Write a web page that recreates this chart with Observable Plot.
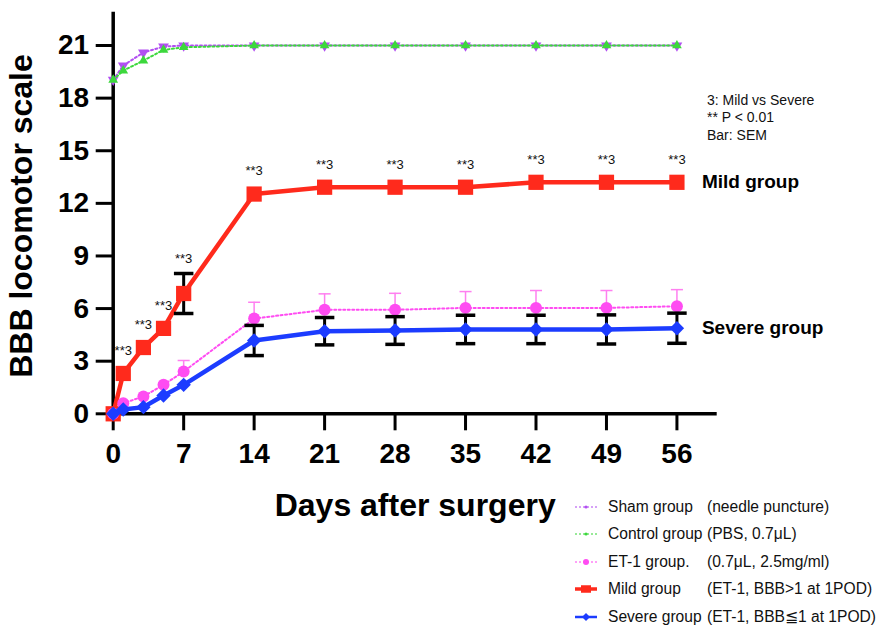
<!DOCTYPE html>
<html><head><meta charset="utf-8">
<script src="https://cdn.jsdelivr.net/npm/d3@7"></script>
<script src="https://cdn.jsdelivr.net/npm/@observablehq/plot@0.6"></script>
<style>
body{margin:0;background:#fff;font-family:"Liberation Sans",Arial,Helvetica,sans-serif;}
#wrap{position:relative;width:877px;height:627px;overflow:hidden;}
#note{position:absolute;left:707px;top:91.5px;font-size:14px;line-height:17.5px;color:#111;}
#legend{position:absolute;left:573px;top:493px;font-size:15.6px;color:#111;}
.row{height:27.5px;display:flex;align-items:center;white-space:pre;}
.row svg{margin-right:9px;}
.nm{display:inline-block;width:99px;}
</style></head>
<body><div id="wrap"></div>
<script>
// ---- data ----
const days     = [0, 1, 3, 5, 7, 14, 21, 28, 35, 42, 49, 56];
const sham     = [19.04, 19.86, 20.6, 20.94, 21, 21, 21, 21, 21, 21, 21, 21];
const control  = [19.04, 19.57, 20.14, 20.75, 20.9, 21, 21, 21, 21, 21, 21, 21];
const et1      = [0, 0.6, 0.99, 1.65, 2.41, 5.43, 5.93, 5.93, 6.04, 6.04, 6.04, 6.13];
const et1Sem   = [0, 0, 0, 0, 0.63, 0.93, 0.91, 0.94, 0.93, 0.99, 0.99, 0.95];
const mild     = [0, 2.3, 3.78, 4.87, 6.86, 12.53, 12.92, 12.92, 12.92, 13.2, 13.2, 13.2];
const mildSem  = [0, 0, 0, 0, 1.14, 0, 0, 0, 0, 0, 0, 0];
const severe   = [0, 0.25, 0.38, 1.04, 1.65, 4.18, 4.71, 4.75, 4.81, 4.81, 4.81, 4.88];
const severeSem= [0, 0, 0, 0, 0, 0.86, 0.78, 0.79, 0.81, 0.81, 0.83, 0.86];
const sigDays  = [1, 3, 5, 7, 14, 21, 28, 35, 42, 49, 56];
const sigLabel = "**3";
const xTicks   = [0, 7, 14, 21, 28, 35, 42, 49, 56];
const yTicks   = [0, 3, 6, 9, 12, 15, 18, 21];
const xTitle   = "Days after surgery";
const yTitle   = "BBB locomotor scale";
const groupLabels = ["Mild group", "Severe group"];
const noteLines = ["3: Mild vs Severe", "** P < 0.01", "Bar: SEM"];
const legendNames   = ["Sham group", "Control group", "ET-1 group.", "Mild group", "Severe group"];
const legendDetails = ["(needle puncture)", "(PBS, 0.7\u03BCL)", "(0.7\u03BCL, 2.5mg/ml)", "(ET-1, BBB>1 at 1POD)", "(ET-1, BBB\u22661 at 1POD)"];

// ---- styles ----
const C = {sham:"#b24ff2", control:"#3cd83c", et1:"#ff4cf2", et1bar:"#ff7ff0", mild:"#ff2a1c", severe:"#1c3cff"};

const rows = days.map((d, i) => ({
  day: d, sham: sham[i], control: control[i], et1: et1[i], et1Sem: et1Sem[i],
  mild: mild[i], mildSem: mildSem[i], severe: severe[i], severeSem: severeSem[i]
}));
const capSym = {draw(ctx, size){ const w = Math.sqrt(size); ctx.moveTo(-w, 0); ctx.lineTo(w, 0); }};
const mildBars = rows.filter(d => d.mildSem > 0);
const sevBars = rows.filter(d => d.severeSem > 0);
const etBars = rows.filter(d => d.et1Sem > 0);
const sigRows = rows.filter(d => sigDays.includes(d.day));
const last = rows[rows.length - 1];

const chart = Plot.plot({
  width: 877, height: 627,
  marginLeft: 112.7, marginRight: 160.3, marginTop: 11.7, marginBottom: 213.7,
  x: {domain: [0, 60], label: null},
  y: {domain: [0, 22.9], label: null},
  style: {fontFamily: '"Liberation Sans", Arial, Helvetica, sans-serif', background: "white", color: "black", overflow: "visible"},
  marks: [
    Plot.axisX(xTicks, {tickSize: 17, tickPadding: 12, fontSize: 28, fontWeight: "bold", strokeWidth: 3, label: null}),
    Plot.axisY(yTicks, {tickSize: 17, tickPadding: 7, fontSize: 28, fontWeight: "bold", strokeWidth: 3, label: null}),
    Plot.ruleY([0], {stroke: "black", strokeWidth: 3.5}),
    Plot.ruleX([0], {stroke: "black", strokeWidth: 3.5}),
    Plot.text([yTitle], {frameAnchor: "left", textAnchor: "middle", lineAnchor: "middle", rotate: -90, dx: -91, dy: 3, fontSize: 32, fontWeight: "bold"}),
    Plot.text([xTitle], {frameAnchor: "bottom", textAnchor: "middle", lineAnchor: "middle", dy: 91.7, fontSize: 32, fontWeight: "bold"}),
    // sham
    Plot.line(rows, {x: "day", y: "sham", stroke: C.sham, strokeWidth: 2, strokeDasharray: "2,2.5"}),
    Plot.dot(rows, {x: "day", y: "sham", symbol: "triangle", rotate: 180, r: 4, fill: C.sham}),
    // control
    Plot.line(rows, {x: "day", y: "control", stroke: C.control, strokeWidth: 2, strokeDasharray: "2,2.5"}),
    Plot.dot(rows, {x: "day", y: "control", symbol: "triangle", r: 3.6, fill: C.control}),
    // mild
    Plot.line(rows, {x: "day", y: "mild", stroke: C.mild, strokeWidth: 4.5}),
    Plot.ruleX(mildBars, {x: "day", y1: d => d.mild - d.mildSem, y2: d => d.mild + d.mildSem, stroke: "black", strokeWidth: 3}),
    Plot.dot(mildBars, {x: "day", y: d => d.mild + d.mildSem, symbol: capSym, r: 5.5, stroke: "black", strokeWidth: 3.5}),
    Plot.dot(mildBars, {x: "day", y: d => d.mild - d.mildSem, symbol: capSym, r: 5.5, stroke: "black", strokeWidth: 3.5}),
    Plot.dot(rows, {x: "day", y: "mild", symbol: "square", r: 8.6, fill: C.mild}),
    // ET-1
    Plot.line(rows, {x: "day", y: "et1", stroke: C.et1, strokeWidth: 2, strokeDasharray: "2,2.5"}),
    Plot.ruleX(etBars, {x: "day", y1: "et1", y2: d => d.et1 + d.et1Sem, stroke: C.et1bar, strokeWidth: 1.5}),
    Plot.dot(etBars, {x: "day", y: d => d.et1 + d.et1Sem, symbol: capSym, r: 3.4, stroke: C.et1bar, strokeWidth: 1.5}),
    Plot.dot(rows, {x: "day", y: "et1", r: 6, fill: C.et1}),
    // severe
    Plot.line(rows, {x: "day", y: "severe", stroke: C.severe, strokeWidth: 4.5}),
    Plot.ruleX(sevBars, {x: "day", y1: d => d.severe - d.severeSem, y2: d => d.severe + d.severeSem, stroke: "black", strokeWidth: 3}),
    Plot.dot(sevBars, {x: "day", y: d => d.severe + d.severeSem, symbol: capSym, r: 5.5, stroke: "black", strokeWidth: 3.5}),
    Plot.dot(sevBars, {x: "day", y: d => d.severe - d.severeSem, symbol: capSym, r: 5.5, stroke: "black", strokeWidth: 3.5}),
    Plot.dot(rows, {x: "day", y: "severe", symbol: "diamond2", r: 6.5, fill: C.severe}),
    // significance labels
    Plot.text(sigRows, {x: "day", y: d => d.mild + Math.max(d.mildSem, 0.45), text: () => sigLabel, dy: -15, fontSize: 13, fill: "#111"}),
    // group labels
    Plot.text([last], {x: "day", y: "mild", text: () => groupLabels[0], dx: 25, textAnchor: "start", fontSize: 19, fontWeight: "bold"}),
    Plot.text([last], {x: "day", y: "severe", text: () => groupLabels[1], dx: 25, textAnchor: "start", fontSize: 19, fontWeight: "bold"})
  ]
});
const wrap = document.getElementById("wrap");
wrap.appendChild(chart);

// note
const note = document.createElement("div");
note.id = "note";
note.innerHTML = noteLines.map(t => `<div>${t.replace(/</g, "&lt;")}</div>`).join("");
wrap.appendChild(note);

// legend
const swatch = [
  {c: C.sham, w: 1.5, dash: "2,2", sym: "dot", s: 1.6},
  {c: C.control, w: 1.5, dash: "2,2", sym: "dot", s: 1.6},
  {c: C.et1, w: 1.5, dash: "2,2", sym: "dot", s: 3},
  {c: C.mild, w: 3.5, dash: null, sym: "square", s: 5},
  {c: C.severe, w: 2.5, dash: null, sym: "diamond", s: 4}
];
const legend = document.createElement("div");
legend.id = "legend";
legendNames.forEach((name, i) => {
  const s = swatch[i];
  let m = "";
  if (s.sym === "dot") m = `<circle cx="13" cy="7" r="${s.s}" fill="${s.c}"/>`;
  if (s.sym === "square") m = `<rect x="${13 - s.s}" y="${7 - s.s * 0.75}" width="${2 * s.s}" height="${1.5 * s.s}" fill="${s.c}"/>`;
  if (s.sym === "diamond") m = `<path d="M13,${7 - s.s}L${13 + s.s},7L13,${7 + s.s}L${13 - s.s},7Z" fill="${s.c}"/>`;
  const row = document.createElement("div");
  row.className = "row";
  row.innerHTML = `<svg width="26" height="14"><line x1="2" x2="24" y1="7" y2="7" stroke="${s.c}" stroke-width="${s.w}" ${s.dash ? `stroke-dasharray="${s.dash}"` : ""} opacity="${s.dash ? 0.7 : 1}"/>${m}</svg><span class="nm">${name}</span><span>${legendDetails[i].replace(/>/g, "&gt;")}</span>`;
  legend.appendChild(row);
});
wrap.appendChild(legend);
</script>
</body></html>
